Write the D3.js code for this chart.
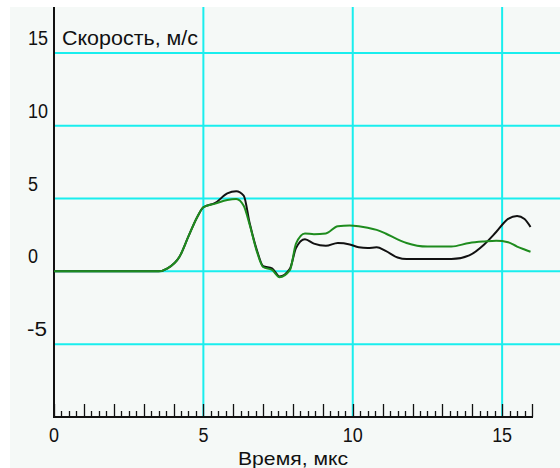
<!DOCTYPE html>
<html>
<head>
<meta charset="utf-8">
<script src="https://cdn.jsdelivr.net/npm/d3@7"></script>
<style>
  body { margin: 0; background: #fff; }
  text { font-family: "Liberation Sans", Arial, sans-serif; fill: #111; }
</style>
</head>
<body>
<svg id="chart" width="560" height="468"></svg>
<script>
// chart data
var times  = [0, 3.5, 3.8, 4.2, 4.5, 4.8, 5.0, 5.4, 5.8, 6.1, 6.35, 6.55, 6.8, 7.0, 7.3, 7.55, 7.9, 8.1, 8.4, 8.7, 9.1, 9.5, 9.9, 10.2, 10.5, 10.8, 11.1, 11.5, 11.8, 12.5, 13.3, 13.9, 14.4, 14.8, 15.2, 15.5, 15.75, 15.95]
var blackV = [0, 0, 0.2, 1.0, 2.4, 3.75, 4.4, 4.7, 5.35, 5.5, 5.2, 3.3, 1.4, 0.35, 0.2, -0.35, 0.2, 1.6, 2.2, 1.9, 1.75, 1.95, 1.85, 1.65, 1.6, 1.65, 1.4, 0.95, 0.84, 0.84, 0.84, 1.1, 1.85, 2.7, 3.6, 3.8, 3.6, 3.05]
var greenV = [0, 0, 0.2, 1.0, 2.4, 3.75, 4.4, 4.65, 4.9, 4.97, 4.5, 3.2, 1.3, 0.3, 0.1, -0.4, 0.1, 1.9, 2.6, 2.55, 2.6, 3.1, 3.15, 3.1, 3.0, 2.85, 2.6, 2.2, 1.95, 1.7, 1.7, 1.95, 2.05, 2.1, 2.0, 1.7, 1.5, 1.35]
var yTicks = [15, 10, 5, 0, -5]
var xTicks = [0, 5, 10, 15]
var yTitle = 'Скорость, м/с'
var xTitle = 'Время, мкс'

var svg = d3.select('#chart')

var x = d3.scaleLinear().domain([0, 16]).range([54, 532])
var y = d3.scaleLinear().domain([-10, 18.15]).range([417, 7])

// background panel
svg.append('rect').attr('x', 10).attr('y', 7).attr('width', 550).attr('height', 461).attr('fill', '#f5f9f7')

// grid
svg.selectAll('.hgrid').data(yTicks).enter().append('line')
  .attr('x1', x(0)).attr('x2', 560)
  .attr('y1', function (d) { return y(d) }).attr('y2', function (d) { return y(d) })
  .attr('stroke', '#19eeee').attr('stroke-width', 2)

svg.selectAll('.vgrid').data(xTicks.slice(1)).enter().append('line')
  .attr('x1', function (d) { return x(d) }).attr('x2', function (d) { return x(d) })
  .attr('y1', 7).attr('y2', 417)
  .attr('stroke', '#19eeee').attr('stroke-width', 2)

// x axis with inner ticks every 0.25
var minor = d3.range(0, 16.01, 0.25)
svg.append('line').attr('x1', x(0) - 1).attr('x2', x(16) + 1).attr('y1', 417).attr('y2', 417)
  .attr('stroke', '#111').attr('stroke-width', 2)
svg.selectAll('.tick').data(minor).enter().append('line')
  .attr('x1', function (d) { return Math.round(x(d)) + 0.5 }).attr('x2', function (d) { return Math.round(x(d)) + 0.5 })
  .attr('y1', 417).attr('y2', function (d) { return Math.abs(d - Math.round(d)) < 0.01 ? 404 : 411 })
  .attr('stroke', '#111').attr('stroke-width', 1.3)

// y axis line
svg.append('line').attr('x1', x(0)).attr('x2', x(0)).attr('y1', 7).attr('y2', 418)
  .attr('stroke', '#111').attr('stroke-width', 2)

// tick labels
svg.selectAll('.ylab').data(yTicks).enter().append('text')
  .attr('x', function (d) { return d < 0 ? 27 : 28 })
  .attr('y', function (d) { return y(d) - 8 })
  .attr('font-size', 20)
  .attr('textLength', function (d) { return String(d).length * 10 })
  .attr('lengthAdjust', 'spacingAndGlyphs')
  .text(function (d) { return d })

svg.selectAll('.xlab').data(xTicks).enter().append('text')
  .attr('x', function (d) { return x(d) - String(d).length * 5 })
  .attr('y', 442)
  .attr('font-size', 20)
  .attr('textLength', function (d) { return String(d).length * 10 })
  .attr('lengthAdjust', 'spacingAndGlyphs')
  .text(function (d) { return d })

// titles
svg.append('text').attr('x', 62).attr('y', 45).attr('font-size', 20)
  .attr('textLength', 136).attr('lengthAdjust', 'spacingAndGlyphs').text(yTitle)
svg.append('text').attr('x', 238).attr('y', 465).attr('font-size', 19)
  .attr('textLength', 110).attr('lengthAdjust', 'spacingAndGlyphs').text(xTitle)

// curves
var line = d3.line()
  .x(function (d) { return x(d[0]) })
  .y(function (d) { return y(d[1]) })
  .curve(d3.curveMonotoneX)

svg.append('path').datum(d3.zip(times, blackV)).attr('d', line)
  .attr('fill', 'none').attr('stroke', '#111').attr('stroke-width', 2)
svg.append('path').datum(d3.zip(times, greenV)).attr('d', line)
  .attr('fill', 'none').attr('stroke', '#1e8c1e').attr('stroke-width', 2)
</script>
</body>
</html>
